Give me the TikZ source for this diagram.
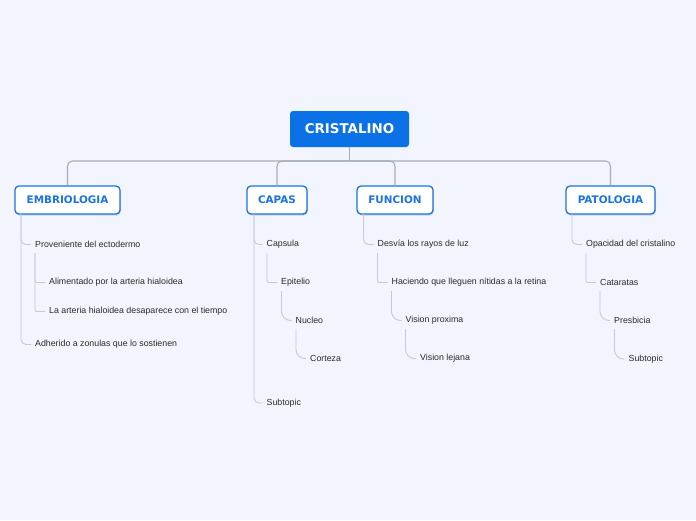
\documentclass[tikz,border=0pt]{standalone}
\usepackage{fontspec}
\setmainfont{Liberation Sans}
\newfontfamily\headfont{DejaVu Sans}
\usetikzlibrary{shadows}
\definecolor{bgc}{HTML}{F2F5FD}
\definecolor{rootc}{HTML}{0A72E6}
\definecolor{mainc}{HTML}{1A73E0}
\definecolor{trunkc}{HTML}{A9ACB1}
\definecolor{subc}{HTML}{C6C9CF}
\definecolor{txtc}{HTML}{2A2A2A}
\tikzset{
  rootbox/.style={fill=rootc, rounded corners=3pt, text=white, font=\headfont\bfseries\fontsize{13.4}{15}\selectfont, minimum width=119pt, minimum height=36pt, inner sep=0pt},
  mainbox/.style={fill=white, draw=mainc, line width=1.3pt, rounded corners=4pt, text=mainc, font=\headfont\bfseries\fontsize{10.4}{12}\selectfont, minimum height=28pt, inner sep=0pt, drop shadow={opacity=0.3, shadow xshift=0.8pt, shadow yshift=-1.5pt}},
  leaf/.style={anchor=west, inner sep=0pt, text=txtc, font=\fontsize{8.8}{10}\selectfont},
  trunk/.style={draw=trunkc, line width=1.1pt, rounded corners=5pt},
  sub/.style={draw=subc, line width=0.9pt, rounded corners=5pt},
  subb/.style={draw=subc, line width=0.9pt, rounded corners=9pt},
}
\begin{document}
\begin{tikzpicture}[x=1pt, y=-1pt]
\fill[bgc] (0,0) rectangle (696,520);
\useasboundingbox (0,0) rectangle (696,520);
% main nodes
\node[rootbox] (root) at (349.5,129) {CRISTALINO};
\node[mainbox, minimum width=105pt] (emb) at (67.5,200) {EMBRIOLOGIA};
\node[mainbox, minimum width=60pt] (cap) at (277,200) {CAPAS};
\node[mainbox, minimum width=76pt] (fun) at (395,200) {FUNCION};
\node[mainbox, minimum width=89pt] (pat) at (610.5,200) {PATOLOGIA};
\coordinate (j) at (349.5,161);
% trunk connectors
\draw[trunk] (root.south) -- (j);
\draw[trunk] (j) -| (emb.north);
\draw[trunk] (j) -| (cap.north);
\draw[trunk] (j) -| (fun.north);
\draw[trunk] (j) -| (pat.north);
% leaves EMBRIOLOGIA
\node[leaf] (e1) at (35,244.5) {Proveniente del ectodermo};
\node[leaf] (e11) at (49,282.5) {Alimentado por la arteria hialoidea};
\node[leaf] (e12) at (49,311.5) {La arteria hialoidea desaparece con el tiempo};
\node[leaf] (e2) at (35,344.5) {Adherido a zonulas que lo sostienen};
\draw[sub] (21,214) |- ([xshift=-4pt]e1.west);
\draw[sub] (21,214) |- ([xshift=-4pt]e2.west);
\draw[sub, rounded corners=2pt] (35,253) |- ([xshift=-4pt]e11.west);
\draw[sub, rounded corners=2pt] (35,253) |- ([xshift=-4pt]e12.west);
% leaves CAPAS
\node[leaf] (c1) at (266.5,244.5) {Capsula};
\node[leaf] (c11) at (281,282.5) {Epitelio};
\node[leaf] (c111) at (295.5,320.5) {Nucleo};
\node[leaf] (c1111) at (310,358.5) {Corteza};
\node[leaf] (c2) at (266.5,403) {Subtopic};
\draw[sub] (254,214) |- ([xshift=-4pt]c1.west);
\draw[sub] (254,214) |- ([xshift=-4pt]c2.west);
\draw[sub, rounded corners=2pt] (267,253) |- ([xshift=-4pt]c11.west);
\draw[subb] (281.5,291) |- ([xshift=-4pt]c111.west);
\draw[subb] (296,329) |- ([xshift=-4pt]c1111.west);
% leaves FUNCION
\node[leaf] (f1) at (377.5,244.5) {Desvía los rayos de luz};
\node[leaf] (f11) at (391.5,282.5) {Haciendo que lleguen nítidas a la retina};
\node[leaf] (f111) at (405.5,320.5) {Vision proxima};
\node[leaf] (f1111) at (420,358.5) {Vision lejana};
\draw[sub] (363.5,214) |- ([xshift=-4pt]f1.west);
\draw[sub, rounded corners=2pt] (377.5,253) |- ([xshift=-4pt]f11.west);
\draw[subb] (391.5,291) |- ([xshift=-4pt]f111.west);
\draw[subb] (405.5,329) |- ([xshift=-4pt]f1111.west);
% leaves PATOLOGIA
\node[leaf] (p1) at (586,244.5) {Opacidad del cristalino};
\node[leaf] (p11) at (600,282.5) {Cataratas};
\node[leaf] (p111) at (614,320.5) {Presbicia};
\node[leaf] (p1111) at (628.5,359) {Subtopic};
\draw[sub] (572,214) |- ([xshift=-4pt]p1.west);
\draw[sub, rounded corners=2pt] (586,253) |- ([xshift=-4pt]p11.west);
\draw[subb] (600,291) |- ([xshift=-4pt]p111.west);
\draw[subb] (614.5,329) |- ([xshift=-4pt]p1111.west);
\end{tikzpicture}
\end{document}
